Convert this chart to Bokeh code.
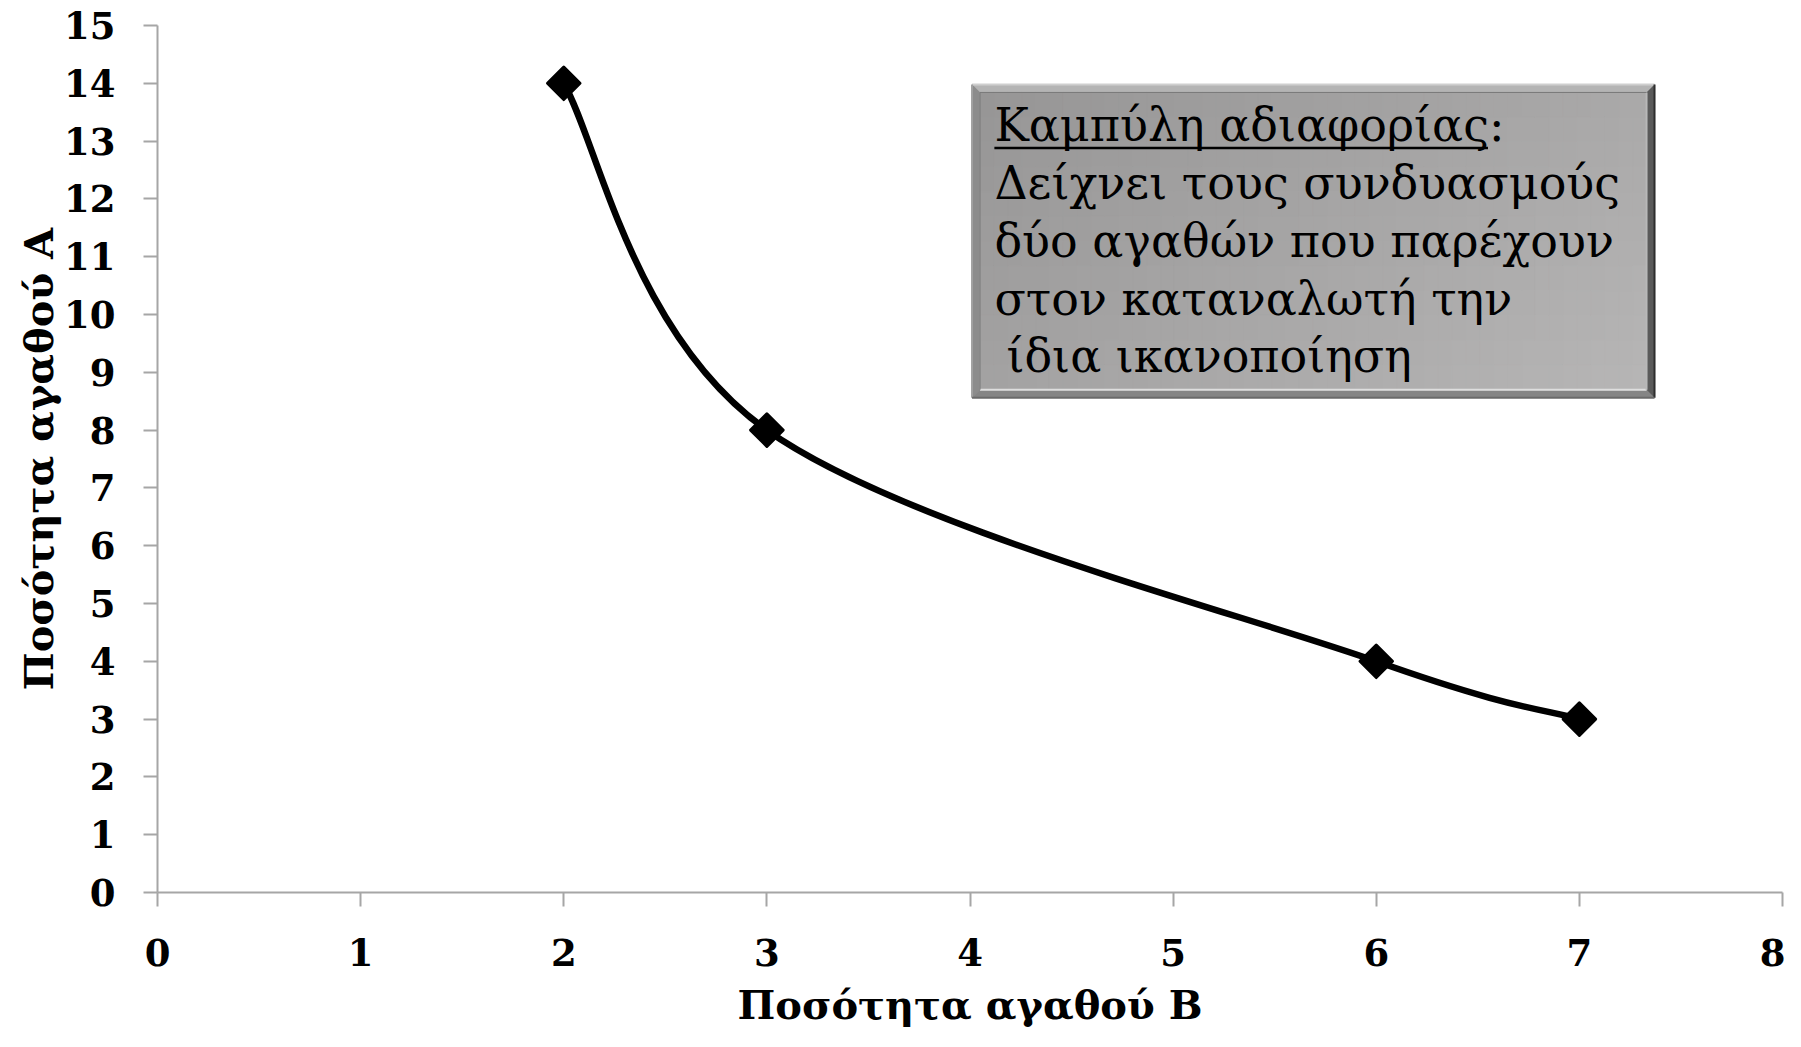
import numpy as np
from bokeh.plotting import figure
from bokeh.models import Range1d, FixedTicker, Label
from bokeh.embed import file_html
from bokeh.resources import INLINE

# ---- data ----
good_b = [2, 3, 6, 7]
good_a = [14, 8, 4, 3]
x_ticks = [0, 1, 2, 3, 4, 5, 6, 7, 8]
y_ticks = [0, 1, 2, 3, 4, 5, 6, 7, 8, 9, 10, 11, 12, 13, 14, 15]
x_title = "Ποσότητα αγαθού Β"
y_title = "Ποσότητα αγαθού Α"
box_lines = ["Καμπύλη αδιαφορίας:",
             "Δείχνει τους συνδυασμούς",
             "δύο αγαθών που παρέχουν",
             "στον καταναλωτή την",
             " ίδια ικανοποίηση"]

# ---- layout ----
W, H = 1785, 1031
ML, MR, MT, MB = 157, 3, 25, 139
FW, FH = W - ML - MR, H - MT - MB
XMAX, YMAX = 8, 15
pxx = FW / XMAX
pxy = FH / YMAX

p = figure(width=W, height=H, output_backend="svg", toolbar_location=None,
           x_range=Range1d(0, XMAX), y_range=Range1d(0, YMAX),
           min_border_left=ML, min_border_right=MR, min_border_top=MT, min_border_bottom=MB)
p.outline_line_color = None
p.grid.visible = False
p.background_fill_color = "white"
p.border_fill_color = "white"

p.xaxis.ticker = FixedTicker(ticks=x_ticks)
p.yaxis.ticker = FixedTicker(ticks=y_ticks)
p.xaxis.axis_label = x_title
p.yaxis.axis_label = y_title
for ax in (p.xaxis[0], p.yaxis[0]):
    ax.axis_line_color = "#a6a6a6"
    ax.axis_line_width = 2
    ax.major_tick_line_color = "#a6a6a6"
    ax.major_tick_line_width = 2
    ax.major_tick_out = 14
    ax.major_tick_in = 0
    ax.minor_tick_line_color = None
    ax.major_label_text_font = "DejaVu Serif"
    ax.major_label_text_font_style = "bold"
    ax.major_label_text_font_size = "37px"
    ax.major_label_text_color = "black"
    ax.axis_label_text_font = "DejaVu Serif"
    ax.axis_label_text_font_style = "bold"
    ax.axis_label_text_font_size = "40px"
    ax.axis_label_text_color = "black"
p.xaxis.major_label_standoff = 32
p.yaxis.major_label_standoff = 28
p.xaxis.axis_label_standoff = 12
p.yaxis.axis_label_standoff = -1

# ---- annotation box (gradient + bevel) ----
bl, br, bt, bb = 4.01, 7.37, 13.98, 8.56
dx, dy = 8 / pxx, 8 / pxy
il, ir, it, ib = bl + dx, br - dx, bt - dy, bb + dy
p.quad(left=[bl], right=[br], top=[bt], bottom=[bb], fill_color="#9a9a9a", line_color=None)
bands_x = [[bl, br, ir, il], [bl, il, il, bl], [bl, br, ir, il], [br, ir, ir, br]]
bands_y = [[bt, bt, it, it], [bt, it, ib, bb], [bb, bb, ib, ib], [bt, it, ib, bb]]
p.patches(bands_x, bands_y, fill_color=["#b4b4b4", "#8c8c8c", "#858585", "#5a5a5a"],
          line_color=None)
nx, ny = 48, 12
gl, gr, gt, gb, gc = [], [], [], [], []
for i in range(nx):
    for j in range(ny):
        u = (i + 0.5) / nx
        v = (j + 0.5) / ny
        c = int(150 + 32 * (0.6 * u + 0.4 * v))
        gl.append(il + (ir - il) * i / nx)
        gr.append(il + (ir - il) * (i + 1) / nx)
        gt.append(it - (it - ib) * j / ny)
        gb.append(it - (it - ib) * (j + 1) / ny)
        gc.append("#%02x%02x%02x" % (c + 1, c, c))
p.quad(left=gl, right=gr, top=gt, bottom=gb, fill_color=gc, line_color=gc, line_width=1)
p.segment(x0=[il, ir], y0=[ib, ib], x1=[ir, ir], y1=[ib, it],
          line_color=["#dedede", "#b8b8b8"], line_width=2)
p.segment(x0=[il, il], y0=[it, it], x1=[ir, il], y1=[it, ib],
          line_color=["#7a7a7a", "#7a7a7a"], line_width=1)
p.segment(x0=[bl, bl], y0=[bt, bt], x1=[br, bl], y1=[bt, bb],
          line_color=["#cfcfcf", "#a0a0a0"], line_width=2)
p.segment(x0=[br, bl], y0=[bt, bb], x1=[br, br], y1=[bb, bb],
          line_color=["#2e2e2e", "#6a6a6a"], line_width=2)

tx = 4.12
shift = 16 / pxy
for k, t in enumerate(box_lines):
    lx = tx + (12 / pxx if t.startswith(" ") else 0)
    p.add_layout(Label(x=lx, y=13 - k + shift, text=t, text_font="DejaVu Serif",
                       text_font_size="46px", text_color="black",
                       text_baseline="alphabetic", text_align="left"))
p.segment(x0=[tx], y0=[13 - 7 / pxy], x1=[6.55], y1=[13 - 7 / pxy],
          line_color="black", line_width=2.5)

# ---- smoothed curve (Excel-style cubic Bezier through the points) ----
xs = np.array(good_b, float)
ys = np.array(good_a, float)
n = len(xs)
cx0, cy0, cx1, cy1 = [], [], [], []
for i in range(n - 1):
    pm = i - 1 if i > 0 else i
    pp = i + 2 if i + 2 < n else i + 1
    cx0.append(xs[i] + (xs[i + 1] - xs[pm]) / 6)
    cy0.append(ys[i] + (ys[i + 1] - ys[pm]) / 6)
    cx1.append(xs[i + 1] - (xs[pp] - xs[i]) / 6)
    cy1.append(ys[i + 1] - (ys[pp] - ys[i]) / 6)
p.bezier(x0=xs[:-1], y0=ys[:-1], x1=xs[1:], y1=ys[1:],
         cx0=cx0, cy0=cy0, cx1=cx1, cy1=cy1, line_color="black", line_width=6.5)
p.scatter(good_b, good_a, marker="square", angle=np.pi / 4, size=23,
          fill_color="black", line_color="black", line_width=3, line_join="round")

open("out.html", "w").write(file_html(p, INLINE))
